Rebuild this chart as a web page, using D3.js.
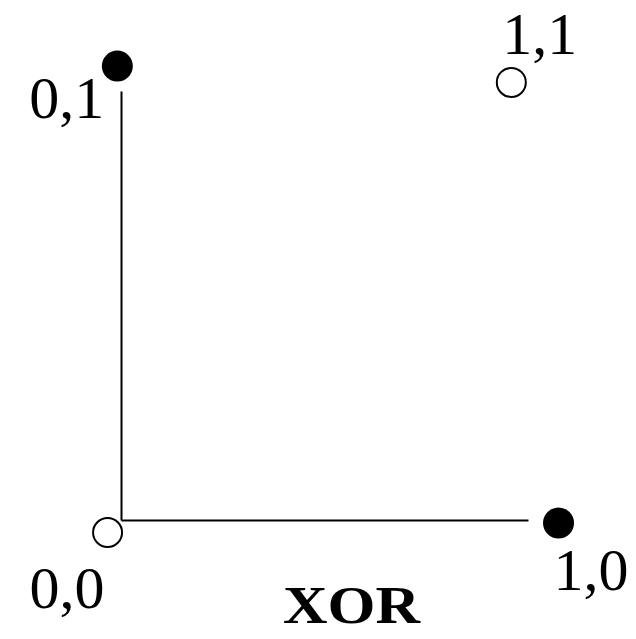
<!DOCTYPE html>
<html>
<head>
<meta charset="utf-8">
<script src="https://cdn.jsdelivr.net/npm/d3@7"></script>
<style>
html,body{margin:0;padding:0;background:#fff;}
svg{display:block;}
</style>
</head>
<body>
<script>
// Data (XOR truth table points, positions in data units)
const labels = ["0,1", "1,1", "0,0", "1,0"];
const xVals = [-0.009, 0.959, -0.033, 1.075];
const yVals = [1.058, 1.020, -0.029, -0.007];
const outputs = [1, 0, 0, 1]; // 1 = filled, 0 = open
const title = "XOR";

const W = 636, H = 639;
const svg = d3.select("body").append("svg").attr("width", W).attr("height", H);

const x = d3.scaleLinear().domain([0, 1]).range([121, 528]);
const y = d3.scaleLinear().domain([0, 1]).range([520, 91]);

// Axes (plain lines, no ticks)
svg.append("g").attr("transform", `translate(0,${y(0)})`)
  .call(d3.axisBottom(x).ticks(0).tickSize(0).tickSizeOuter(0))
  .call(g => g.select(".domain").attr("stroke", "#000").attr("stroke-width", 2));
svg.append("g").attr("transform", `translate(${x(0)},0)`)
  .call(d3.axisLeft(y).ticks(0).tickSize(0).tickSizeOuter(0))
  .call(g => g.select(".domain").attr("stroke", "#000").attr("stroke-width", 2));

const pts = labels.map((l, i) => ({label: l, x: xVals[i], y: yVals[i], out: outputs[i]}));

svg.selectAll("circle.pt").data(pts).join("circle")
  .attr("class", "pt")
  .attr("cx", d => x(d.x)).attr("cy", d => y(d.y))
  .attr("r", d => d.out ? 15.5 : 14.5)
  .attr("fill", d => d.out ? "#000" : "#fff")
  .attr("stroke", "#000").attr("stroke-width", d => d.out ? 0 : 2);

// label offsets relative to point
const lab = {
  "0,1": {dx: -13, dy: 52, anchor: "end"},
  "1,1": {dx: -9, dy: -28, anchor: "start"},
  "0,0": {dx: -3, dy: 76, anchor: "end"},
  "1,0": {dx: -5, dy: 67, anchor: "start"}
};
svg.selectAll("text.lbl").data(pts).join("text")
  .attr("class", "lbl")
  .attr("x", d => x(d.x) + lab[d.label].dx)
  .attr("y", d => y(d.y) + lab[d.label].dy)
  .attr("text-anchor", d => lab[d.label].anchor)
  .attr("font-family", "'Liberation Serif', 'Times New Roman', serif")
  .attr("font-size", 60)
  .attr("fill", "#000")
  .text(d => d.label);

svg.append("text")
  .attr("x", 283).attr("y", 623)
  .attr("font-family", "'Liberation Serif', 'Times New Roman', serif")
  .attr("font-weight", "bold")
  .attr("font-size", 52)
  .attr("textLength", 137).attr("lengthAdjust", "spacingAndGlyphs")
  .attr("fill", "#000")
  .text(title);
</script>
</body>
</html>
